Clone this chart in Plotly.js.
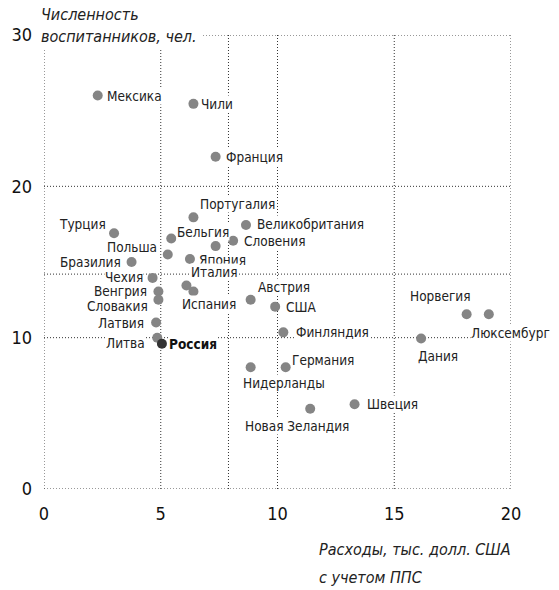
<!DOCTYPE html>
<html><head><meta charset="utf-8">
<script src="https://cdn.plot.ly/plotly-3.0.1.min.js"></script>
<style>html,body{margin:0;padding:0;background:#fff}</style>
</head><body>
<div id="chart" style="width:559px;height:590px"></div>
<script>
// ---- data ----
const countries = ["Мексика","Чили","Франция","Португалия","Турция","Великобритания","Бельгия","","Словения","Польша","Япония","Бразилия","Чехия","Венгрия","Словакия","Италия","Испания","Латвия","Литва","Россия","Австрия","США","Финляндия","Норвегия","Люксембург","Дания","Нидерланды","Германия","Новая Зеландия","Швеция"];
const spending = [2.3,6.4,7.35,6.4,3.0,8.65,5.45,7.35,8.1,5.3,6.25,3.75,4.65,4.9,4.9,6.1,6.4,4.8,4.85,5.05,8.85,9.9,10.25,18.1,19.05,16.15,8.85,10.35,11.4,13.3];
const children = [26.0,25.45,21.95,17.95,16.9,17.45,16.55,16.05,16.4,15.5,15.2,15.0,13.95,13.05,12.5,13.45,13.05,11.0,10.0,9.6,12.5,12.05,10.35,11.55,11.55,9.95,8.05,8.05,5.3,5.6];
const avgSpending = 7.9;
const avgChildren = 14.2;
const xTicks = [0,5,10,15,20];
const yTicks = [0,10,20,30];
const highlight = "Россия";

// ---- label placement (layout only): [anchor, dx, dy, whiteBackground] ----
const place = {
 "Мексика":["left",8,0,1],"Чили":["left",7,0,1],"Франция":["left",9,0,1],
 "Португалия":["left",6,13,1],"Турция":["right",-7,9,0],"Великобритания":["left",10,1,1],
 "Бельгия":["left",5,7,1],"Словения":["left",10,0,1],"Польша":["right",-10,7,0],
 "Япония":["left",8,-1,0],"Бразилия":["right",-10,0,0],"Чехия":["right",-9,1,1],
 "Венгрия":["right",-10,1,0],"Словакия":["right",-9,-6,0],"Италия":["left",4,13,1],
 "Испания":["left",-12,-12,1],"Латвия":["right",-11,0,0],"Литва":["right",-11,-5,1],
 "Россия":["left",6,0,1],"Австрия":["left",6,13,1],"США":["left",10,0,1],
 "Финляндия":["left",12,0,1],"Норвегия":["right",5,18,1],"Люксембург":["left",-19,-19,1],
 "Дания":["left",-4,-18,1],"Нидерланды":["left",-9,-16,1],"Германия":["left",5,7,1],
 "Новая Зеландия":["center",-13,-17,1],"Швеция":["left",11,0,1]
};

const FONT = '"DejaVu Sans Condensed","Liberation Sans Narrow",sans-serif';
const GRID = '#333';
const DOT = '1px,2px';

const colors = countries.map(c => c === highlight ? '#333333' : '#858585');

const trace = {
  type:'scatter', mode:'markers', x:spending, y:children,
  marker:{size:10, color:colors, line:{width:0}},
  hoverinfo:'skip', cliponaxis:false
};

const annotations = [];
countries.forEach((c,i) => {
  if (!c) return;
  const p = place[c];
  annotations.push({
    x:spending[i], y:children[i], xref:'x', yref:'y', showarrow:false,
    text: c === highlight ? '<b>'+c+'</b>' : c,
    xanchor:p[0], yanchor:'middle', xshift:p[1], yshift:p[2],
    font:{family:FONT, size:13.5, color: c === highlight ? '#111' : '#222'},
    bgcolor: p[3] ? '#ffffff' : 'rgba(0,0,0,0)', borderpad:0
  });
});
// axis titles
const titleFont = {family:FONT, size:16, color:'#222', style:'italic'};
annotations.push({xref:'paper',yref:'paper',x:-0.011,y:1.045,xanchor:'left',yanchor:'middle',showarrow:false,
  text:'Численность',font:titleFont});
annotations.push({xref:'paper',yref:'paper',x:-0.011,y:0.9956,xanchor:'left',yanchor:'middle',showarrow:false,
  text:'воспитанников, чел.',font:titleFont});
annotations.push({xref:'paper',yref:'paper',x:0.584,y:-0.134,xanchor:'left',yanchor:'middle',showarrow:false,
  text:'Расходы, тыс. долл. США',font:titleFont});
annotations.push({xref:'paper',yref:'paper',x:0.584,y:-0.196,xanchor:'left',yanchor:'middle',showarrow:false,
  text:'с учетом ППС',font:titleFont});

// grid (dotted) from tick values and averages
const shapes = [];
xTicks.concat([avgSpending]).forEach(v => shapes.push({type:'line', xref:'x', yref:'y', x0:v, x1:v, y0:yTicks[0], y1:yTicks[yTicks.length-1],
  layer:'below', line:{color:GRID, width:1, dash:DOT}}));
yTicks.concat([avgChildren]).forEach(v => shapes.push({type:'line', xref:'x', yref:'y', x0:xTicks[0], x1:xTicks[xTicks.length-1], y0:v, y1:v,
  layer:'below', line:{color:GRID, width:1, dash:DOT}}));
// white mask behind the y-axis title
shapes.push({type:'rect', xref:'paper', yref:'paper', x0:-0.02, x1:0.34, y0:0.971, y1:1.08, layer:'above',
  fillcolor:'#ffffff', line:{width:0}});

const layout = {
  width:559, height:590,
  margin:{l:44, r:48, t:35, b:101},
  paper_bgcolor:'#fff', plot_bgcolor:'#fff',
  showlegend:false,
  xaxis:{range:[0,20], tickvals:xTicks, ticktext:xTicks.map(String), showgrid:false,
         zeroline:false, showline:false, ticks:'', ticklabelstandoff:12,
         tickfont:{family:FONT, size:18, color:'#111'}, fixedrange:true},
  yaxis:{range:[0,30], tickvals:yTicks, ticktext:yTicks.map(String), showgrid:false,
         zeroline:false, showline:false, ticks:'', ticklabelstandoff:11,
         tickfont:{family:FONT, size:18, color:'#111'}, fixedrange:true},
  shapes:shapes, annotations:annotations
};

Plotly.newPlot('chart',[trace],layout,{staticPlot:true});
</script>
</body></html>
